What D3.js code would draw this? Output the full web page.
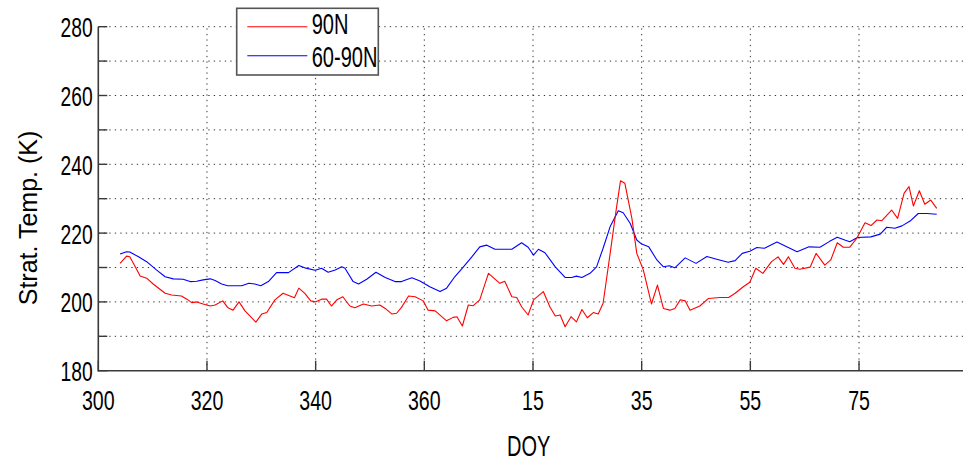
<!DOCTYPE html>
<html>
<head>
<meta charset="utf-8">
<script src="https://cdn.jsdelivr.net/npm/d3@7"></script>
<style>
html,body{margin:0;padding:0;background:#fff;}
svg{display:block;}
text{font-family:"Liberation Sans",Arial,sans-serif;fill:#000;}
</style>
</head>
<body>
<script>
// ---- data ----
const xTicks = [300, 320, 340, 360, 380, 400, 420, 440];
const xTickLabels = ["300", "320", "340", "360", "15", "35", "55", "75"];
const yTicks = [180, 190, 200, 210, 220, 230, 240, 250, 260, 270, 280];
const yTickLabels = ["180", "", "200", "", "220", "", "240", "", "260", "", "280"];
const seriesNames = ["90N", "60-90N"];
const seriesColors = ["#ff0000", "#0000ff"];

const redDays = [304,305.2,305.8,306.8,307.7,308.9,310.1,312.3,313.5,315.3,316.3,317.2,318.1,319.3,320.6,321.5,322.9,323.8,324.8,325.9,327,329,330.1,331,332.5,334,336.1,336.9,338,339.1,339.9,341.1,342,342.9,343.9,345,346.3,347.2,348.8,350.3,351.8,352.8,354,354.9,355.8,357.1,358.3,359.8,360.7,362,364.1,365.3,366,367,368.1,369,370.2,371.8,373.9,374.8,376.1,377,377.9,379.1,380.1,381.9,383.1,384.1,385,385.9,387,388,389,390,391.1,392,392.9,394.2,395.3,396.1,396.9,398.2,399.1,400.3,401.8,402.9,404,405.2,406.1,407.1,408,408.9,410.7,412.3,414.4,416,417.2,418.7,419.9,421,422.3,423.9,425.1,426.1,427,428.2,429.1,431,432.1,433.7,434.8,436,437.1,438.3,439.6,441.1,442.2,443.3,444.2,446,447.1,448.3,449.2,450,451.1,452.1,453.2,454.3];
const redTemps = [211.2,213.3,213.1,210.2,207.5,206.9,205.2,202.5,202.0,201.7,200.8,199.8,200.0,199.4,198.8,199.1,200.3,198.4,197.6,200.0,197.4,194.1,196.5,196.9,200.6,202.5,201.2,204.0,202.5,200.3,200.0,200.8,200.8,198.8,200.6,201.5,198.8,198.3,199.4,198.8,199.1,198.1,196.5,196.7,198.4,201.7,201.5,200.3,197.6,197.4,194.5,195.5,195.7,193.0,199.1,198.9,200.6,208.3,205.4,206.0,201.5,201.3,198.6,196.2,200.6,203.0,198.6,195.9,196.2,192.8,195.7,194.2,197.8,195.4,196.9,196.5,199.6,214.1,226.7,235.2,234.5,224.3,214.1,209.3,199.4,204.9,198.1,197.6,198.1,200.6,200.3,197.6,198.8,201.0,201.3,201.3,202.5,204.4,205.7,209.8,208.3,211.7,213.1,210.9,213.1,209.8,209.5,210.1,214.1,210.7,212.2,217.2,215.9,215.9,218.5,223.0,222.2,223.8,223.6,226.7,224.3,231.6,233.5,227.9,232.3,228.4,229.6,227.2];

const blueDays = [304,305.2,305.8,307.4,308.9,310.7,312.3,313.8,315.6,316.9,318.1,319.3,320.6,321.5,322.7,323.8,326.4,327.7,328.8,329.9,331.3,332.8,335,336.9,338,339.9,341.1,342.3,343.6,344.8,345.4,346.9,347.9,349.4,351.1,352.8,354.6,355.8,357.7,359.2,361,362.9,364.1,365.6,367.2,368.7,370.2,371.5,373,374.9,376.1,377.9,379.1,380.1,381,382.2,384.1,385.9,387.1,388,389,390.5,391.7,392.9,394.2,395.7,396.6,397.9,399.1,400,401.3,402.8,404,405.1,406.1,408,410,412,413.8,415.9,417.2,418.5,419.9,421.2,422.6,424.9,426.5,428.6,430.8,432.8,434.6,436,437.5,438.3,439.7,442.2,443.9,445.1,446.6,447.9,449.4,450.9,452.5,454.3];
const blueTemps = [213.9,214.6,214.5,213.1,211.7,209.3,207.3,206.7,206.6,205.9,206.0,206.4,206.7,206.2,205.2,204.7,204.7,205.4,205.2,204.7,205.9,208.5,208.5,210.6,209.9,209.2,209.8,208.6,209.3,210.2,209.8,205.9,205.2,206.6,208.6,207.1,205.9,205.9,207.0,206.1,204.4,203.0,204.0,207.3,210.2,213.0,216.0,216.5,215.3,215.3,215.3,217.2,215.9,213.6,215.3,214.3,210.2,207.1,207.1,207.5,207.1,208.3,210.2,215.6,221.9,226.5,225.9,222.8,218.0,216.8,216.0,212.2,210.2,210.5,209.9,212.8,211.2,213.2,212.4,211.5,212.0,214.1,214.7,215.8,215.6,217.4,216.2,214.6,216.0,215.9,217.6,218.8,217.9,217.5,218.7,218.9,219.7,221.7,221.4,222.1,223.5,225.7,225.7,225.5];

// ---- layout ----
const W = 963, H = 462;
const x = d3.scaleLinear().domain([300, 460]).range([98.3, 967.7]);
const y = d3.scaleLinear().domain([180, 280]).range([370.7, 26.7]);
const FONT = "\"Liberation Sans\",Arial,sans-serif";

const svg = d3.select("body").append("svg").attr("width", W).attr("height", H);

function sText(g, tx, ty, str, size, sx, anchor) {
  return g.append("text")
    .attr("transform", `translate(${tx},${ty}) scale(${sx},1)`)
    .attr("text-anchor", anchor)
    .style("font-size", size + "px")
    .text(str);
}

// grid
const grid = svg.append("g");
grid.selectAll("line.h").data(yTicks.filter(t => t > 180)).join("line")
  .attr("x1", x(300)).attr("x2", W)
  .attr("y1", d => y(d)).attr("y2", d => y(d))
  .attr("stroke", "#333").attr("stroke-width", 1).attr("stroke-dasharray", "1.3,4.2");
grid.selectAll("line.v").data(xTicks.filter(t => t > 300)).join("line")
  .attr("x1", d => x(d)).attr("x2", d => x(d))
  .attr("y1", y(180)).attr("y2", y(280))
  .attr("stroke", "#333").attr("stroke-width", 1).attr("stroke-dasharray", "1.3,4.2");

// series
const line = d3.line().x(d => x(d[0])).y(d => y(d[1]));
const redData = redDays.map((d, i) => [d, redTemps[i]]);
const blueData = blueDays.map((d, i) => [d, blueTemps[i]]);
svg.append("path").datum(blueData).attr("d", line)
  .attr("fill", "none").attr("stroke", seriesColors[1]).attr("stroke-width", 1.1).attr("stroke-linejoin", "round");
svg.append("path").datum(redData).attr("d", line)
  .attr("fill", "none").attr("stroke", seriesColors[0]).attr("stroke-width", 1.1).attr("stroke-linejoin", "round");

// axes
const axisColor = "#3a3a3a";
svg.append("line").attr("x1", x(300)).attr("x2", x(300)).attr("y1", y(180) + 0.7).attr("y2", y(280))
  .attr("stroke", axisColor).attr("stroke-width", 1.6);
svg.append("line").attr("x1", x(300)).attr("x2", W).attr("y1", y(180)).attr("y2", y(180))
  .attr("stroke", axisColor).attr("stroke-width", 1.6);
svg.selectAll("line.yt").data(yTicks).join("line")
  .attr("x1", x(300)).attr("x2", x(300) + 9)
  .attr("y1", d => y(d)).attr("y2", d => y(d))
  .attr("stroke", axisColor).attr("stroke-width", 1.4);
svg.selectAll("line.xt").data(xTicks).join("line")
  .attr("x1", d => x(d)).attr("x2", d => x(d))
  .attr("y1", y(180)).attr("y2", y(180) - 10)
  .attr("stroke", axisColor).attr("stroke-width", 1.4);

// tick labels
yTicks.forEach((t, i) => {
  if (yTickLabels[i]) sText(svg, 92.7, y(t) + 10.5, yTickLabels[i], 27.5, 0.7, "end");
});
xTicks.forEach((t, i) => {
  sText(svg, x(t), 410, xTickLabels[i], 28, 0.7, "middle");
});

// axis titles
sText(svg, 528.7, 456, "DOY", 29, 0.69, "middle");
svg.append("text")
  .attr("transform", "translate(36.7,218) rotate(-90)")
  .attr("text-anchor", "middle")
  .style("font-size", "25px")
  .text("Strat. Temp. (K)");

// legend
const lg = svg.append("g");
lg.append("rect").attr("x", 236.7).attr("y", 8.3).attr("width", 141.6).attr("height", 66.7)
  .attr("fill", "#fff").attr("stroke", "#555").attr("stroke-width", 1.6);
const legY = [26.7, 55.7];
const legBase = [34.3, 66.5];
seriesNames.forEach((n, i) => {
  lg.append("line").attr("x1", 247.3).attr("x2", 307.3).attr("y1", legY[i]).attr("y2", legY[i])
    .attr("stroke", seriesColors[i]).attr("stroke-width", 1.1);
  sText(lg, 311.7, legBase[i], n, 29.5, 0.68, "start");
});
</script>
</body>
</html>
